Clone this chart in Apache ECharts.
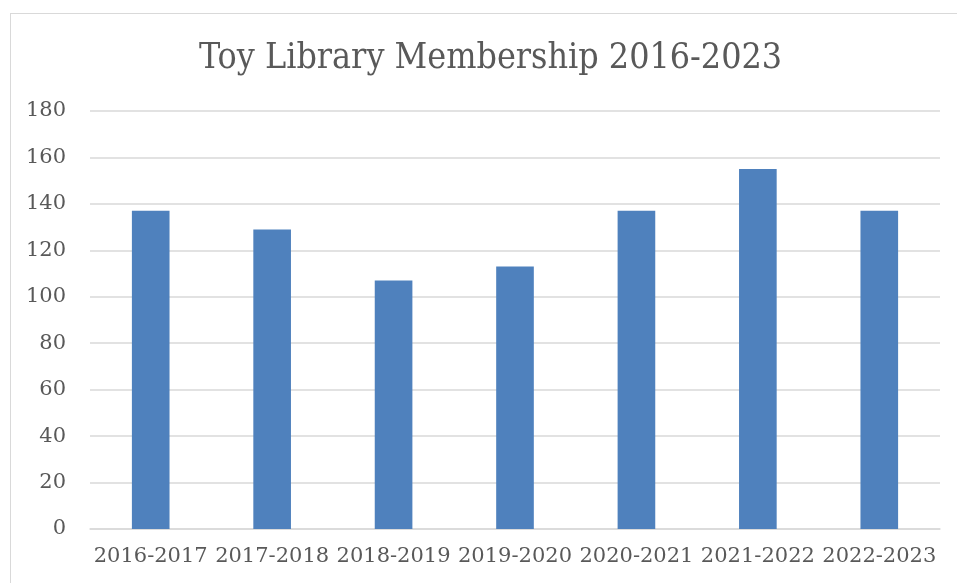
<!DOCTYPE html>
<html>
<head>
<meta charset="utf-8">
<script src="https://cdn.jsdelivr.net/npm/echarts@6/dist/echarts.min.js"></script>
<style>
  html, body { margin: 0; padding: 0; overflow: hidden; background: #fff; }
  #frame { position: absolute; left: 10px; top: 13px; width: 980px; height: 600px; border: 1px solid #d9d9d9; }
  #chart { position: absolute; left: 0; top: 0; width: 957px; height: 583px; }
</style>
</head>
<body>
<div id="frame"></div>
<div id="chart"></div>
<script>
var years = ['2016-2017', '2017-2018', '2018-2019', '2019-2020', '2020-2021', '2021-2022', '2022-2023'];
var members = [137, 129, 107, 113, 137, 155, 137];

$chart = echarts.init(document.getElementById('chart'));
var font = 'DejaVu Serif';
var option = {
    animation: false,
    title: {
        text: 'Toy Library Membership 2016-2023',
        left: 199,
        top: 41,
        padding: 0,
        textStyle: { fontFamily: 'DejaVu Serif Condensed', fontSize: 35.5, fontWeight: 'normal', color: '#595959' }
    },
    grid: { left: 90, right: 17, top: 111, bottom: 54 },
    xAxis: {
        type: 'category',
        data: years,
        axisLine: { lineStyle: { color: '#d9d9d9', width: 1.5 } },
        axisTick: { show: false },
        axisLabel: { interval: 0, fontFamily: font, fontSize: 21, color: '#595959', margin: 17 }
    },
    yAxis: {
        type: 'value',
        min: 0,
        max: 180,
        interval: 20,
        axisLine: { show: false },
        axisTick: { show: false },
        splitLine: { lineStyle: { color: '#d9d9d9', width: 1.5 } },
        axisLabel: { fontFamily: font, fontSize: 21, color: '#595959', margin: 24 }
    },
    series: [{
        type: 'bar',
        data: members,
        barWidth: '31%',
        itemStyle: { color: '#4f81bd' }
    }]
};
$chart.setOption(option);
</script>
</body>
</html>
